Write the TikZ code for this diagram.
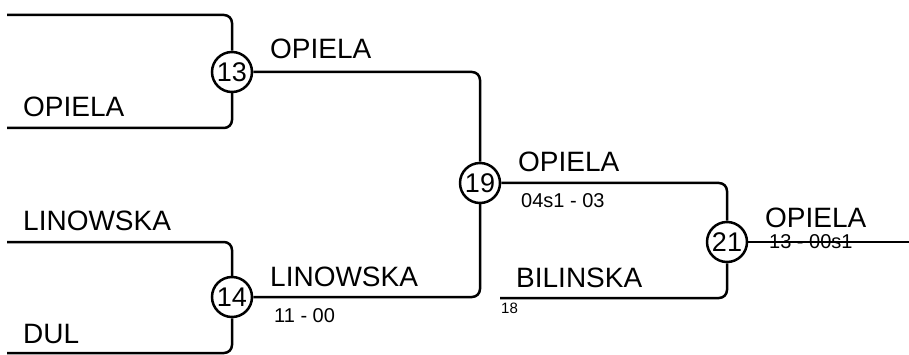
\documentclass[tikz,border=0pt]{standalone}
\usepackage{fontspec}
\setmainfont{Liberation Sans}
\begin{document}
\begin{tikzpicture}[x=1pt,y=-1pt,
  wire/.style={line width=2.5pt,rounded corners=8pt},
  match/.style={circle,draw,line width=2.5pt,fill=white,minimum size=40pt,inner sep=0pt,font=\fontsize{27}{28}\selectfont},
  player/.style={anchor=base west,inner sep=0pt,font=\fontsize{28}{30}\selectfont},
  score/.style={anchor=base west,inner sep=0pt,font=\fontsize{20}{22}\selectfont},
  seed/.style={anchor=base west,inner sep=0pt,font=\fontsize{15}{16}\selectfont}]
\useasboundingbox (0,0) rectangle (909,355);
% coordinates of free ends
\coordinate (a1) at (7,15);
\coordinate (a2) at (7,128);
\coordinate (b1) at (7,242);
\coordinate (b2) at (7,353);
\coordinate (bil) at (500,298);
\coordinate (fin) at (909,242);
% match circles
\node[match] (c13) at (232,72) {13};
\node[match] (c14) at (232,297) {14};
\node[match] (c19) at (480,183) {19};
\node[match] (c21) at (727,242) {21};
% connectors
\draw[wire] (a1) -| (c13);
\draw[wire] (a2) -| (c13);
\draw[wire] (b1) -| (c14);
\draw[wire] (b2) -| (c14);
\draw[wire] (c13) -| (c19);
\draw[wire] (c14) -| (c19);
\draw[wire] (c19) -| (c21);
\draw[wire] (bil) -| (c21);
\draw[wire] (c21) -- (fin);
% labels
\node[player] (l1) at (23,117) {OPIELA};
\node[player] (l2) at (23,230) {LINOWSKA};
\node[player] (l3) at (23,343) {DUL};
\node[player] (w13) at (270,59) {OPIELA};
\node[player] (w14) at (270,286) {LINOWSKA};
\node[score] (s14) at (274,322) {11 - 00};
\node[player] (w19) at (518,172) {OPIELA};
\node[score] (s19) at (521,208) {04s1 - 03};
\node[player] (bn) at (516,287) {BILINSKA};
\node[seed] (sd) at (501,313) {18};
\node[player] (w21) at (765,227) {OPIELA};
\node[score] (s21) at (769,248) {13 - 00s1};
\end{tikzpicture}
\end{document}
